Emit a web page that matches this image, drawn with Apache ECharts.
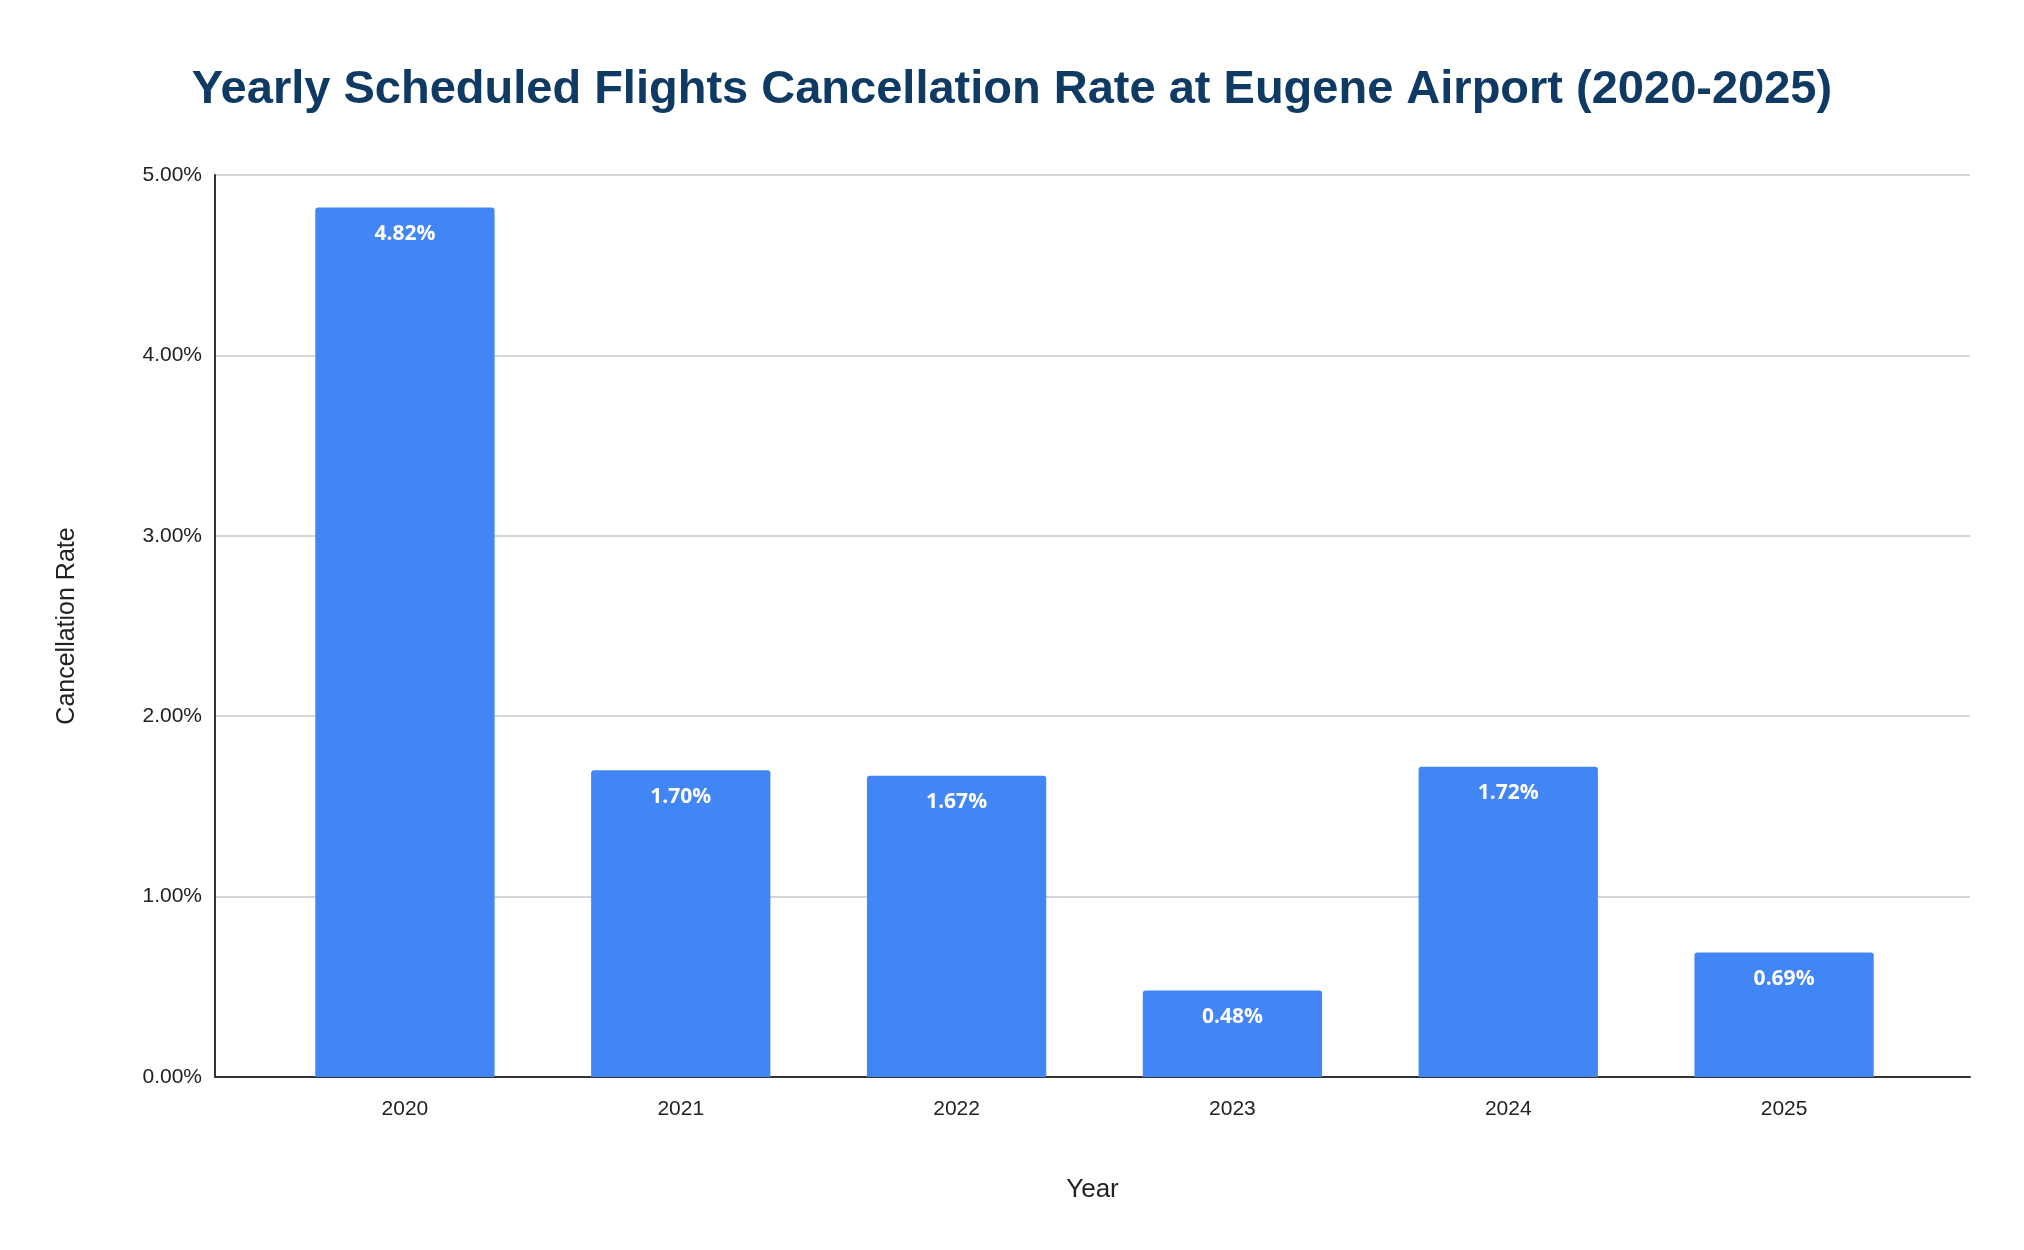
<!DOCTYPE html>
<html><head><meta charset="utf-8">
<script src="https://cdn.jsdelivr.net/npm/echarts@6/dist/echarts.min.js"></script>
<style>html,body{margin:0;padding:0;background:#fff}#c{width:2024px;height:1250px}</style>
</head><body><div id="c"></div>
<script>
const years = ['2020','2021','2022','2023','2024','2025'];
const rates = [4.82, 1.70, 1.67, 0.48, 1.72, 0.69];
const chart = echarts.init(document.getElementById('c'));
const F = 'Liberation Sans';
chart.setOption({
  backgroundColor:'#fff',
  title:{text:'Yearly Scheduled Flights Cancellation Rate at Eugene Airport (2020-2025)',left:'center',top:62,
    textStyle:{fontFamily:F,fontSize:47,fontWeight:'bold',color:'#0f3a63'}},
  grid:[{left:215,right:54,top:175,bottom:173},{left:267,right:102,top:175,bottom:173}],
  xAxis:[
    {gridIndex:0,type:'value',min:0,max:1,show:true,axisLine:{lineStyle:{color:'#333',width:2}},
     axisTick:{show:false},axisLabel:{show:false},splitLine:{show:false},
     name:'Year',nameLocation:'middle',nameGap:100,nameTextStyle:{fontFamily:F,fontSize:26,color:'#222'}},
    {gridIndex:1,type:'category',data:years,axisLine:{show:false},axisTick:{show:false},
     axisLabel:{fontFamily:F,fontSize:21,color:'#222',margin:22}}],
  yAxis:[
    {gridIndex:0,type:'value',min:0,max:5,interval:1,name:'Cancellation Rate',nameLocation:'middle',nameGap:135,
     nameTextStyle:{fontFamily:F,fontSize:25,color:'#222'},
     axisLine:{show:true,lineStyle:{color:'#333',width:2}},axisTick:{show:false},
     axisLabel:{fontFamily:F,fontSize:21,color:'#222',margin:13,formatter:v=>v.toFixed(2)+'%'},
     splitLine:{lineStyle:{color:'#c8c8c8',width:1.5}}},
    {gridIndex:1,type:'value',min:0,max:5,interval:1,show:false,splitLine:{show:false}}],
  series:[{type:'bar',xAxisIndex:1,yAxisIndex:1,data:rates,barWidth:'65%',
    itemStyle:{color:'#4285f4',borderRadius:[3,3,0,0]},
    label:{show:true,position:'insideTop',distance:16,color:'#fff',fontFamily:'Open Sans',fontWeight:'bold',fontSize:21,
      formatter:p=>p.value.toFixed(2)+'%'}}]
});
</script></body></html>
